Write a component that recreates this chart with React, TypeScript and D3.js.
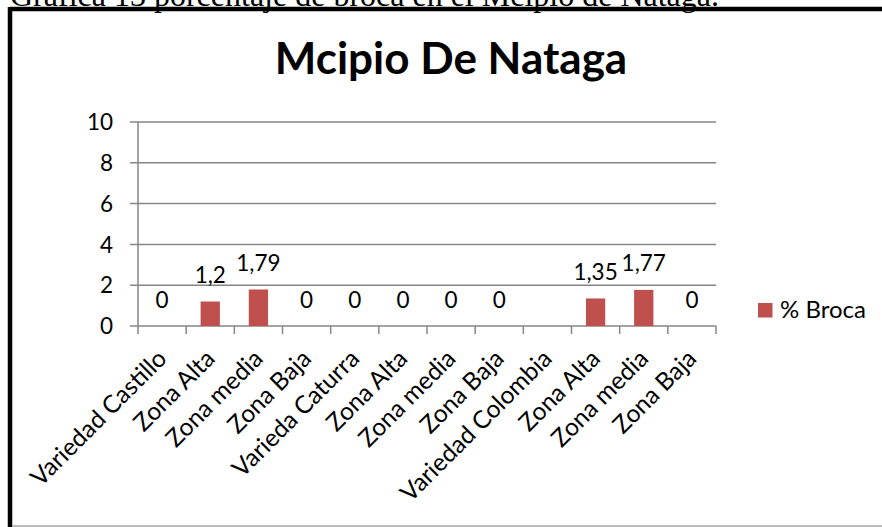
import React from "react";
import * as d3 from "d3";

const caption = "Grafica 13 porcentaje de broca en el Mcipio de Nataga.";
const title = "Mcipio De Nataga";
const categories = [
  "Variedad Castillo",
  "Zona Alta",
  "Zona media",
  "Zona Baja",
  "Varieda Caturra",
  "Zona Alta",
  "Zona media",
  "Zona Baja",
  "Variedad Colombia",
  "Zona Alta",
  "Zona media",
  "Zona Baja",
];
const broca: (number | null)[] = [0, 1.2, 1.79, 0, 0, 0, 0, 0, null, 1.35, 1.77, 0];
const yTicks = [0, 2, 4, 6, 8, 10];
const seriesName = "% Broca";

const W = 882;
const H = 527;
const FONT = "Lato, Carlito, Calibri, sans-serif";
const BAR = "#C0504D";
const GRID = "#868686";

export default function App() {
  const x = d3
    .scaleBand<number>()
    .domain(categories.map((_, i) => i))
    .range([138, 716])
    .paddingInner(0.6)
    .paddingOuter(0.3);
  const y = d3.scaleLinear().domain([0, 10]).range([326, 122]);
  const step = x.step();
  const x0 = 138;
  const fmt = (v: number) => String(v).replace(".", ",");

  return (
    <svg
      width={W}
      height={H}
      style={{ position: "absolute", left: 0, top: 0, background: "#fff" }}
    >
      <text x={10} y={6} fontFamily="'Liberation Serif', 'Times New Roman', serif" fontSize={32} fill="#000">
        {caption}
      </text>
      {/* frame */}
      <line x1={10} y1={9} x2={W} y2={9} stroke="#000" strokeWidth={4.5} />
      <line x1={10} y1={7} x2={10} y2={H} stroke="#000" strokeWidth={4.5} />
      <line x1={12} y1={526} x2={W} y2={526} stroke="#a6a6a6" strokeWidth={1.5} />

      <text x={451} y={74} textAnchor="middle" fontFamily={FONT} fontWeight="bold" fontSize={44} fill="#000">
        {title}
      </text>

      {/* gridlines + y ticks */}
      {yTicks.map((t) => (
        <g key={t}>
          <line x1={130} x2={716} y1={y(t)} y2={y(t)} stroke={GRID} strokeWidth={1.5} />
          <text
            x={113}
            y={y(t)}
            dy="0.36em"
            textAnchor="end"
            fontFamily={FONT}
            fontSize={22.5}
            fill="#000"
          >
            {t}
          </text>
        </g>
      ))}
      <line x1={138} x2={138} y1={y(10)} y2={y(0) + 8} stroke={GRID} strokeWidth={1.5} />
      {categories.map((_, i) => (
        <line
          key={i}
          x1={x0 + step * (i + 1)}
          x2={x0 + step * (i + 1)}
          y1={y(0)}
          y2={y(0) + 8}
          stroke={GRID}
          strokeWidth={1.5}
        />
      ))}

      {/* bars */}
      {broca.map((v, i) =>
        v === null ? null : (
          <g key={i}>
            {v > 0 && (
              <rect
                x={x(i)}
                y={y(v)}
                width={x.bandwidth()}
                height={y(0) - y(v)}
                fill={BAR}
              />
            )}
            <text
              x={(x(i) as number) + x.bandwidth() / 2}
              y={y(v) - 18.5}
              textAnchor="middle"
              fontFamily={FONT}
              fontSize={22.5}
              fill="#000"
            >
              {fmt(v)}
            </text>
          </g>
        )
      )}

      {/* x labels */}
      {categories.map((c, i) => {
        const cx = (x(i) as number) + x.bandwidth() / 2;
        return (
          <text
            key={i}
            transform={`translate(${cx + 0},${y(0) + 28}) rotate(-45)`}
            textAnchor="end"
            fontFamily={FONT}
            fontSize={24.5}
            fill="#000"
            dy="0.35em"
          >
            {c}
          </text>
        );
      })}

      {/* legend */}
      <rect x={758} y={303} width={14.5} height={14.5} fill={BAR} />
      <text x={780} y={318} fontFamily={FONT} fontSize={24} fill="#000">
        {seriesName}
      </text>
    </svg>
  );
}
